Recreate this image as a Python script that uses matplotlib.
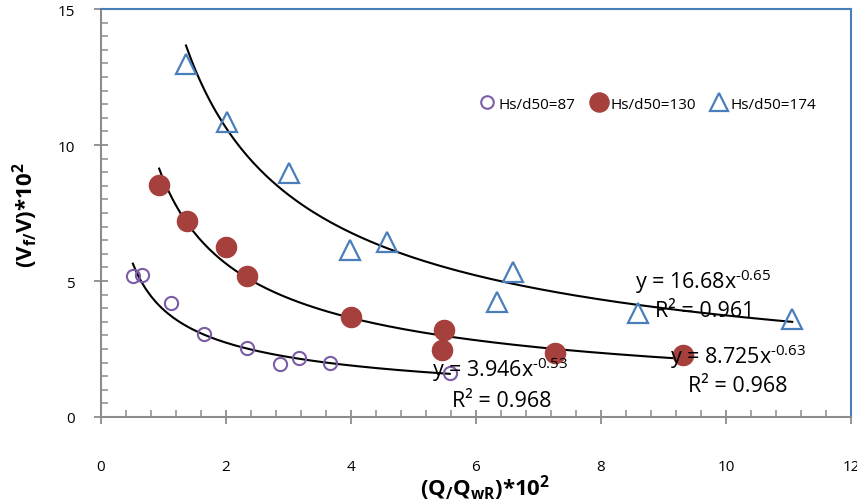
import matplotlib.pyplot as plt
import numpy as np
from matplotlib.ticker import MultipleLocator

plt.rcParams["font.family"] = ["Open Sans", "DejaVu Sans"]
plt.rcParams["mathtext.fontset"] = "custom"
plt.rcParams["mathtext.rm"] = "Open Sans"
plt.rcParams["mathtext.it"] = "Open Sans"
plt.rcParams["mathtext.bf"] = "Open Sans:bold"

# --- data ---
x87 = [0.51, 0.66, 1.12, 1.64, 2.33, 2.86, 3.16, 3.67, 5.58]
y87 = [5.19, 5.22, 4.18, 3.05, 2.53, 1.95, 2.17, 1.99, 1.62]

x130 = [0.93, 1.38, 2.00, 2.34, 4.00, 5.48, 5.46, 7.26, 9.31]
y130 = [8.53, 7.19, 6.26, 5.19, 3.67, 3.20, 2.47, 2.35, 2.28]

x174 = [1.36, 2.02, 3.00, 3.99, 4.58, 6.33, 6.59, 8.59, 11.06]
y174 = [12.98, 10.85, 8.97, 6.15, 6.43, 4.23, 5.33, 3.82, 3.60]

# power trendlines y = a * x^b (coefficients from the chart)
fit87 = (3.946, -0.53, 0.968)
fit130 = (8.725, -0.63, 0.968)
fit174 = (16.68, -0.65, 0.961)

purple = "#7B5CA6"
red = "#A6403D"
blue = "#4A7EBB"

fig = plt.figure(figsize=(8.57, 5.02), dpi=100)
ax = fig.add_axes([101 / 857, 84 / 502, 750 / 857, 408 / 502])

ax.plot(x87, y87, "o", ms=9.5, mfc="none", mec=purple, mew=1.5, label="Hs/d50=87", zorder=3)
ax.plot(x130, y130, "o", ms=14.5, color=red, mec=red, label="Hs/d50=130", zorder=3)
ax.plot(x174, y174, "^", ms=14, mfc="none", mec=blue, mew=1.6, label="Hs/d50=174", zorder=3)

# trendlines
for xs, (a, b, r2) in [(x87, fit87), (x130, fit130), (x174, fit174)]:
    xx = np.linspace(min(xs), max(xs), 200)
    ax.plot(xx, a * xx ** b, color="black", lw=1.5, zorder=2)

# equations
eq_size = 15.5
ax.text(8.54, 5.0, r"y = 16.68x$^{\text{-0.65}}$", fontsize=eq_size, va="center")
ax.text(8.86, 3.9, r"R² = 0.961", fontsize=eq_size, va="center")
ax.text(9.1, 2.25, r"y = 8.725x$^{\text{-0.63}}$", fontsize=eq_size, va="center")
ax.text(9.4, 1.14, r"R² = 0.968", fontsize=eq_size, va="center")
ax.text(5.3, 1.77, r"y = 3.946x$^{\text{-0.53}}$", fontsize=eq_size, va="center")
ax.text(5.62, 0.6, r"R² = 0.968", fontsize=eq_size, va="center")

ax.set_xlim(0, 12)
ax.set_ylim(0, 15)
ax.xaxis.set_major_locator(MultipleLocator(2))
ax.xaxis.set_minor_locator(MultipleLocator(0.4))
ax.yaxis.set_major_locator(MultipleLocator(5))
ax.yaxis.set_minor_locator(MultipleLocator(0.5))

grey = "#8C8C8C"
ax.tick_params(which="major", direction="inout", length=10, width=1.3, color=grey, labelsize=11)
ax.tick_params(which="minor", direction="in", length=5, width=1.1, color=grey)
ax.tick_params(axis="x", which="major", pad=25)
ax.tick_params(axis="y", which="major", pad=14)

ax.spines["left"].set_color(grey)
ax.spines["bottom"].set_color(grey)
ax.spines["left"].set_linewidth(1.5)
ax.spines["bottom"].set_linewidth(1.5)
ax.spines["top"].set_color(blue)
ax.spines["right"].set_color(blue)
ax.spines["top"].set_linewidth(1.5)
ax.spines["right"].set_linewidth(1.5)

ax.legend(loc="center", bbox_to_anchor=(0.728, 0.767), ncol=3, frameon=False,
          fontsize=11, handletextpad=0.15, columnspacing=0.9, handlelength=1.2,
          markerscale=0.95)

fig.text(485 / 857, 1 - 488 / 502, r"$\mathbf{(Q_{/}Q_{wR}){*}10^{2}}$", fontsize=16,
         fontweight="bold", ha="center", va="center")
fig.text(25 / 857, 1 - 215 / 502, r"$\mathbf{(V_{f/}V){*}10^{2}}$", fontsize=16,
         fontweight="bold", ha="center", va="center", rotation=90)

fig.savefig("out.png", dpi=100)
